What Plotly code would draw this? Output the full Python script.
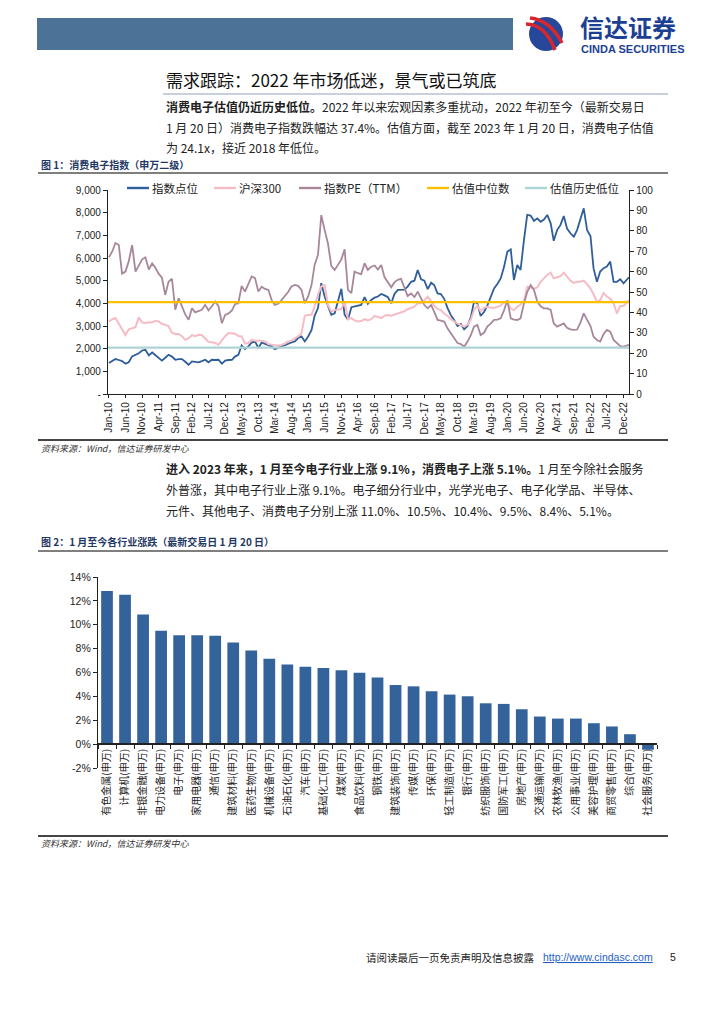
import plotly.graph_objects as go
import pandas as pd

# ---------------- data ----------------
# 图1 monthly, Jan-2010 ... Dec-2022 + 2023-01-20
index_level = [
    1370, 1450, 1540, 1500, 1450, 1340, 1400, 1660, 1720, 1800, 1920, 1950,   # 2010
    1700, 1830, 1720, 1600, 1470, 1600, 1730, 1650, 1510, 1540, 1540, 1420,   # 2011
    1290, 1440, 1420, 1400, 1450, 1510, 1400, 1510, 1500, 1510, 1340, 1470,   # 2012
    1500, 1510, 1650, 1730, 2140, 1980, 2100, 2270, 2320, 2030, 2270, 2220,   # 2013
    2170, 2100, 1980, 2050, 2100, 2150, 2220, 2280, 2320, 2470, 2540, 2320,   # 2014
    2540, 2830, 3450, 3790, 4890, 4300, 3900, 3490, 3560, 4100, 4640, 3500,   # 2015
    3270, 3830, 3860, 3890, 3930, 4270, 3980, 4150, 4250, 4300, 4410, 4350,   # 2016
    4270, 4000, 4400, 4590, 4590, 4600, 4740, 4950, 5000, 5470, 5060, 5000,   # 2017
    4630, 4910, 4810, 4440, 4410, 4200, 3800, 3480, 3250, 3000, 3090, 2850,   # 2018
    3000, 3400, 4070, 4000, 3440, 3620, 3900, 4300, 4660, 4850, 5100, 5600,   # 2019
    6280, 6380, 5030, 5690, 5470, 6790, 7900, 7870, 7640, 7750, 7600, 7700,   # 2020
    7900, 7530, 6760, 7230, 7450, 7850, 7300, 7090, 6940, 7230, 7700, 8190,   # 2021
    7230, 6970, 5540, 4950, 5400, 5550, 5620, 5840, 4950, 4950, 5060, 4880,   # 2022
    5150,                                                                     # 2023-01-20
]
hs300 = [
    3200, 3300, 3350, 3100, 2800, 2600, 2850, 2900, 2950, 3380, 3150, 3130,
    3160, 3150, 3230, 3200, 3100, 3050, 3000, 2700, 2650, 2650, 2550, 2390,
    2460, 2600, 2550, 2610, 2600, 2450, 2300, 2280, 2250, 2170, 2380, 2550,
    2690, 2680, 2660, 2560, 2540, 2220, 2250, 2390, 2350, 2360, 2330, 2320,
    2200, 2170, 2150, 2130, 2160, 2220, 2320, 2350, 2470, 2540, 2690, 3450,
    3490, 3500, 3860, 4400, 4740, 4810, 3930, 3640, 3700, 3710, 3750, 4080,
    3300, 3350, 3250, 3200, 3220, 3300, 3250, 3300, 3450, 3400, 3350, 3450,
    3480, 3450, 3500, 3550, 3600, 3650, 3740, 3800, 3850, 4000, 4000, 4140,
    4290, 4100, 3900, 3750, 3700, 3550, 3450, 3300, 3190, 3100, 3040, 2970,
    3050, 3300, 3700, 3900, 3650, 3800, 3850, 3800, 3800, 3850, 3900, 4070,
    4000, 3770, 3700, 3850, 3950, 4100, 4730, 4700, 4650, 4700, 4950, 5100,
    5250, 5350, 5100, 5150, 5200, 5350, 5200, 5000, 4900, 4950, 4950, 5000,
    4850, 4650, 4400, 4070, 4150, 4450, 4300, 4200, 4000, 3550, 3880, 3880,
    4140,
]
index_pe = [
    67, 70, 74, 73, 59, 60, 65, 73, 60, 63, 66, 67,
    61, 64, 62, 59, 57, 48.6, 55, 56.5, 41.3, 47, 43, 39,
    36.4, 42, 40, 40.5, 41.3, 43.7, 41, 43, 45.3, 43, 34.7, 38.8,
    39.5, 41, 44, 44.5, 53, 50.2, 54, 57.6, 56.8, 50.2, 52.6, 51.5,
    51, 46, 43.7, 44.2, 46, 47.8, 50, 52.7, 53.5, 53, 51, 44.5,
    47.8, 53.5, 63.3, 68.2, 87.7, 80.4, 73.9, 62.8, 60.8, 63.3, 66, 70.9,
    51, 49.4, 60, 59.2, 58.8, 64.1, 60.8, 62.4, 63, 61, 63.2, 57.2,
    55, 52.3, 54.7, 56, 56.4, 52.3, 48, 49.3, 47.5, 50.2, 46.9, 43.6,
    42, 43.6, 40.4, 36.3, 36, 35.5, 32.2, 30, 27.3, 25, 24.5, 23.2,
    25.7, 29, 33, 33.8, 28.9, 30, 33, 34.5, 36.3, 36.5, 37.1, 41,
    46, 37.1, 36.5, 36.3, 37.1, 44.4, 50, 53.4, 51, 45.3, 43, 42,
    42, 41.2, 34.6, 33, 33.8, 34.6, 32.5, 31.7, 31.4, 31.6, 35, 39.5,
    36.3, 33.3, 28.1, 26.5, 25.7, 29.4, 31.4, 30.6, 26.5, 25, 23.5, 23.2,
    24.1,
]
pe_median = 45.0
pe_hist_low = 22.7

left_ticks = [0, 1000, 2000, 3000, 4000, 5000, 6000, 7000, 8000, 9000]
left_ticktext = ['-', '1,000', '2,000', '3,000', '4,000', '5,000', '6,000', '7,000', '8,000', '9,000']

# 图2
industries = ['有色金属(申万)', '计算机(申万)', '非银金融(申万)', '电力设备(申万)', '电子(申万)',
              '家用电器(申万)', '通信(申万)', '建筑材料(申万)', '医药生物(申万)', '机械设备(申万)',
              '石油石化(申万)', '汽车(申万)', '基础化工(申万)', '煤炭(申万)', '食品饮料(申万)',
              '钢铁(申万)', '建筑装饰(申万)', '传媒(申万)', '环保(申万)', '轻工制造(申万)',
              '银行(申万)', '纺织服饰(申万)', '国防军工(申万)', '房地产(申万)', '交通运输(申万)',
              '农林牧渔(申万)', '公用事业(申万)', '美容护理(申万)', '商贸零售(申万)', '综合(申万)',
              '社会服务(申万)']
ytd_change = [12.83, 12.52, 10.85, 9.49, 9.13, 9.12, 9.07, 8.52, 7.85, 7.15,
              6.68, 6.48, 6.37, 6.18, 5.98, 5.59, 4.95, 4.84, 4.43, 4.15,
              4.01, 3.42, 3.37, 2.92, 2.31, 2.14, 2.14, 1.75, 1.48, 0.83, -0.47]
pct_ticks = [-2, 0, 2, 4, 6, 8, 10, 12, 14]
pct_ticktext = ['-2%', '0%', '2%', '4%', '6%', '8%', '10%', '12%', '14%']

dates = list(pd.date_range('2010-01-01', periods=156, freq='MS')) + [pd.Timestamp('2023-01-20')]
tick_dates = dates[0:156:5]
tick_labels = [d.strftime('%b-%y') for d in tick_dates]

# ---------------- page geometry helpers ----------------
W, H = 724, 1024
def px(x): return x / W
def py(y): return 1 - y / H

FONT = 'Liberation Sans, Arial, Noto Sans CJK SC'
CJK = 'Noto Sans CJK SC, Liberation Sans'
C_BLUE = '#2F5E98'
C_PINK = '#F6BCC5'
C_MAUVE = '#A8879A'
C_YEL = '#FFC000'
C_TEAL = '#AED3D6'
C_BAR = '#33639A'

fig = go.Figure()

# chart 1 traces
fig.add_trace(go.Scatter(x=dates, y=index_level, mode='lines', name='指数点位',
                         line=dict(color=C_BLUE, width=1.8), xaxis='x', yaxis='y'))
fig.add_trace(go.Scatter(x=dates, y=hs300, mode='lines', name='沪深300',
                         line=dict(color=C_PINK, width=2), xaxis='x', yaxis='y'))
fig.add_trace(go.Scatter(x=dates, y=index_pe, mode='lines', name='指数PE（TTM）',
                         line=dict(color=C_MAUVE, width=1.8), xaxis='x', yaxis='y2'))
fig.add_trace(go.Scatter(x=['2009-12-23', dates[-1]], y=[pe_median, pe_median], mode='lines',
                         name='估值中位数', line=dict(color=C_YEL, width=2.2), xaxis='x', yaxis='y2'))
fig.add_trace(go.Scatter(x=['2009-12-23', dates[-1]], y=[pe_hist_low, pe_hist_low], mode='lines',
                         name='估值历史低位', line=dict(color=C_TEAL, width=2.2), xaxis='x', yaxis='y2'))

# chart 2 trace
fig.add_trace(go.Bar(x=industries, y=ytd_change, marker=dict(color=C_BAR, line=dict(width=0)),
                     xaxis='x3', yaxis='y3'))

axis_common = dict(showline=True, linecolor='#222', linewidth=1.3, ticks='outside',
                   tickcolor='#222', showgrid=False, zeroline=False,
                   tickfont=dict(family=FONT, size=10, color='#222'), automargin=False)

y3_dom = [py(768), py(577)]
x3_pos = y3_dom[0] + (0 - pct_ticks[0]) / (pct_ticks[-1] - pct_ticks[0]) * (y3_dom[1] - y3_dom[0])

fig.update_layout(
    width=W, height=H, margin=dict(l=0, r=0, t=0, b=0),
    paper_bgcolor='white', plot_bgcolor='white', showlegend=False, bargap=0.35,
    font=dict(family=FONT, size=10, color='#222'),
    xaxis=dict(axis_common, domain=[px(108), px(629)], anchor='y', type='date',
               range=['2009-12-23', '2023-01-20'], tickvals=tick_dates, ticktext=tick_labels,
               tickangle=-90, ticklen=3),
    yaxis=dict(axis_common, domain=[py(394), py(190)], anchor='x', range=[0, 9000],
               tickvals=left_ticks, ticktext=left_ticktext, ticklen=4),
    yaxis2=dict(axis_common, overlaying='y', side='right', anchor='x', range=[0, 100],
                tick0=0, dtick=10, ticklen=4),
    xaxis3=dict(axis_common, domain=[px(98), px(657)], anchor='free', position=x3_pos,
                type='category', range=[-0.5, len(industries) - 0.5], tickson='boundaries',
                tickangle=-90, ticklen=4, linewidth=1.5,
                tickfont=dict(family=CJK, size=10, color='#222')),
    yaxis3=dict(axis_common, domain=y3_dom, anchor='x3', range=[pct_ticks[0], pct_ticks[-1]],
                tickvals=pct_ticks, ticktext=pct_ticktext, ticklen=4,
                tickfont=dict(family=FONT, size=10.5, color='#222')),
)

shapes = []
def hline(x0, x1, y, color, width):
    shapes.append(dict(type='line', xref='paper', yref='paper', x0=px(x0), x1=px(x1),
                       y0=py(y), y1=py(y), line=dict(color=color, width=width)))

# header bar and logo
shapes.append(dict(type='rect', xref='paper', yref='paper', x0=px(37), x1=px(513), y0=py(50), y1=py(18),
                   fillcolor='#4D7298', line=dict(width=0), layer='below'))
shapes.append(dict(type='circle', xref='paper', yref='paper', x0=px(529), x1=px(563), y0=py(51), y1=py(17),
                   fillcolor='#27479A', line=dict(width=0)))
def path(pts):
    (x0, y0), (cx, cy), (x1, y1) = pts
    return f'M {px(x0)},{py(y0)} Q {px(cx)},{py(cy)} {px(x1)},{py(y1)}'
shapes.append(dict(type='path', xref='paper', yref='paper', path=path([(526, 24), (545, 24), (555, 50)]),
                   line=dict(color='#D9262E', width=3.5)))
shapes.append(dict(type='path', xref='paper', yref='paper', path=path([(530, 18), (550, 20), (562, 43)]),
                   line=dict(color='#D9262E', width=3.5)))

hline(163, 668, 94, '#8FA2BA', 1)         # title underline
hline(38, 668, 173, '#7F7F7F', 2.2)       # fig1 caption line
hline(38, 668, 440, '#444444', 2)         # fig1 bottom line
hline(38, 668, 551, '#7F7F7F', 2.2)       # fig2 caption line
hline(38, 668, 836, '#444444', 2)         # fig2 bottom line

# manual legend for chart 1
legend_items = [('指数点位', C_BLUE, 127), ('沪深300', C_PINK, 214), ('指数PE（TTM）', C_MAUVE, 299),
                ('估值中位数', C_YEL, 427), ('估值历史低位', C_TEAL, 525)]
annotations = []
for name, col, x0 in legend_items:
    hline(x0, x0 + 22, 188, col, 2.4)
    annotations.append(dict(xref='paper', yref='paper', x=px(x0 + 23), y=py(188), text=name,
                            showarrow=False, xanchor='left', yanchor='middle',
                            font=dict(family=CJK, size=11.5, color='#222')))

def ann(text, x, y, size, color='#222', xanchor='left', family=CJK):
    annotations.append(dict(xref='paper', yref='paper', x=px(x), y=py(y), text=text, showarrow=False,
                            xanchor=xanchor, yanchor='middle', font=dict(family=family, size=size, color=color)))

ann('<b>信达证券</b>', 578, 26.5, 24, '#1C3F94')
ann('<b>CINDA SECURITIES</b>', 579, 48.5, 11, '#1C3F94', family=FONT)

ann('需求跟踪：2022 年市场低迷，景气或已筑底', 164, 79, 17, '#111')
ann('<b>消费电子估值仍近历史低位。</b>2022 年以来宏观因素多重扰动，2022 年初至今（最新交易日', 164, 106, 12)
ann('1 月 20 日）消费电子指数跌幅达 37.4%。估值方面，截至 2023 年 1 月 20 日，消费电子估值', 164, 127, 12)
ann('为 24.1x，接近 2018 年低位。', 164, 147, 12)

ann('<b>图 1：消费电子指数（申万二级）</b>', 39, 164, 10, '#1F3864')
ann('<i>资料来源：Wind，信达证券研发中心</i>', 39, 448, 9, '#333')

ann('<b>进入 2023 年来，1 月至今电子行业上涨 9.1%，消费电子上涨 5.1%。</b>1 月至今除社会服务', 164, 468, 12)
ann('外普涨，其中电子行业上涨 9.1%。电子细分行业中，光学光电子、电子化学品、半导体、', 164, 489, 12)
ann('元件、其他电子、消费电子分别上涨 11.0%、10.5%、10.4%、9.5%、8.4%、5.1%。', 164, 510, 12)

ann('<b>图 2：1 月至今各行业涨跌（最新交易日 1 月 20 日）</b>', 39, 541, 10, '#1F3864')
ann('<i>资料来源：Wind，信达证券研发中心</i>', 39, 843, 9, '#333')

ann('请阅读最后一页免责声明及信息披露', 536, 957, 10.5, '#222', xanchor='right')
ann('<u>http://www.cindasc.com</u>', 541, 957, 10.5, '#1F5FBF', family=FONT)
ann('5', 668, 957, 10.5, '#222', family=FONT)

fig.update_layout(shapes=shapes, annotations=annotations)
fig.write_html('out.html', config={'displayModeBar': False},
               post_script="document.body.style.margin='0';document.body.style.overflow='hidden';")
